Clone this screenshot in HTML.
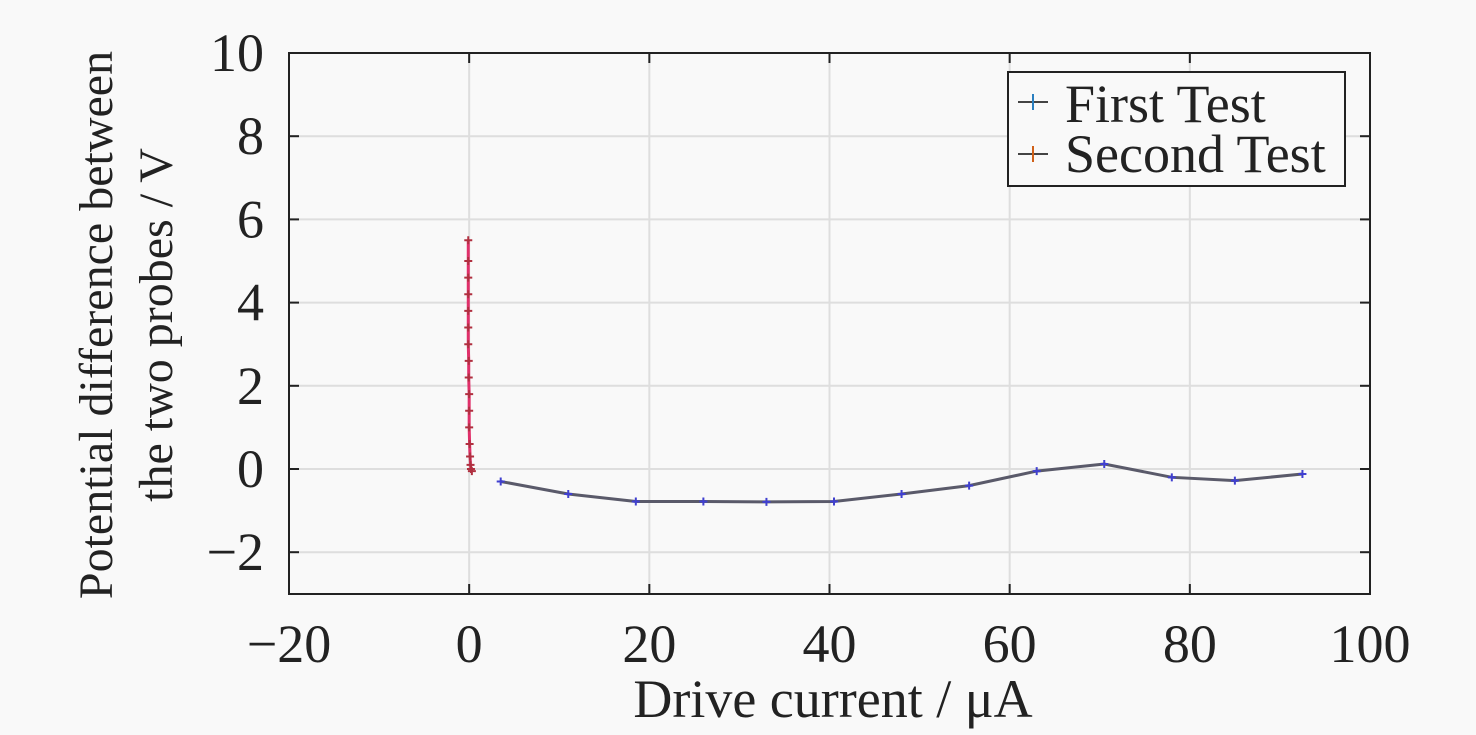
<!DOCTYPE html>
<html><head><meta charset="utf-8"><style>
body{margin:0;background:#f9f9f9;}
svg{display:block;font-family:"Liberation Serif",serif;}
</style></head><body>
<svg id="chart" width="1476" height="735" viewBox="0 0 1476 735">
<rect x="0" y="0" width="1476" height="735" fill="#f9f9f9"/>
<rect x="289" y="53" width="1081" height="541" fill="#f9f9f9"/>
<g id="grid"></g>
<g id="series"></g>
<rect x="289" y="53" width="1081" height="541" fill="none" stroke="#222" stroke-width="2"/>
<g id="ticks"></g>
<text x="833" y="717" text-anchor="middle" font-size="54" fill="#222">Drive current / μA</text>
<g transform="translate(112,325) rotate(-90)">
<text x="0" y="0" text-anchor="middle" font-size="48" fill="#222">Potential difference between</text>
<text x="0" y="60" text-anchor="middle" font-size="48" fill="#222">the two probes / V</text>
</g>
<g>
<rect x="1008" y="72" width="337" height="114" fill="#f9f9f9" stroke="#222" stroke-width="2"/>
<g>
<line x1="1018" y1="102" x2="1048" y2="102" stroke="#444" stroke-width="2"/>
<line x1="1033" y1="94" x2="1033" y2="110" stroke="#2a7fc0" stroke-width="2"/>
<text x="1065" y="122" font-size="54" fill="#222">First Test</text>
</g>
<g>
<line x1="1018" y1="154" x2="1048" y2="154" stroke="#444" stroke-width="2"/>
<line x1="1033" y1="146" x2="1033" y2="162" stroke="#d06018" stroke-width="2"/>
<text x="1065" y="172" font-size="54" fill="#222">Second Test</text>
</g>
</g>
</svg>
<script>
const xTicks=[-20,0,20,40,60,80,100];
const yTicks=[-2,0,2,4,6,8,10];
const firstX=[3.5,11,18.5,26,33,40.5,48,55.5,63,70.5,78,85,92.5];
const firstY=[-0.3,-0.6,-0.78,-0.78,-0.79,-0.78,-0.6,-0.4,-0.05,0.12,-0.2,-0.28,-0.12];
const secondX=[-0.1,-0.1,-0.1,-0.1,-0.1,-0.1,-0.1,-0.05,-0.05,0,0,0,0.05,0.1,0.15,0.2,0.3];
const secondY=[5.5,5.0,4.6,4.2,3.8,3.4,3.0,2.6,2.2,1.8,1.4,1.0,0.6,0.3,0.1,0,-0.05];
const X=v=>289+(v+20)*1081/120;
const Y=v=>469-v*41.6;
const NS="http://www.w3.org/2000/svg";
function mk(tag,attrs,parent,txt){const e=document.createElementNS(NS,tag);for(const k in attrs)e.setAttribute(k,attrs[k]);if(txt!==undefined)e.textContent=txt;document.getElementById(parent).appendChild(e);return e;}
xTicks.forEach(t=>{
 const g=mk('line',{x1:X(t),x2:X(t),y1:53,y2:594,stroke:'#dedede','stroke-width':2},'grid');
 
 
 mk('line',{x1:X(t),x2:X(t),y1:594,y2:584,stroke:'#222','stroke-width':2},'ticks');
 mk('line',{x1:X(t),x2:X(t),y1:53,y2:63,stroke:'#222','stroke-width':2},'ticks');
 const l=mk('text',{x:X(t),y:662,'text-anchor':'middle','font-size':54,fill:'#222'},'ticks',t<0?'\u2212'+(-t):String(t));
 
 
});
yTicks.forEach(t=>{
 const g=mk('line',{x1:289,x2:1370,y1:Y(t),y2:Y(t),stroke:'#dedede','stroke-width':2},'grid');
 
 
 mk('line',{x1:289,x2:299,y1:Y(t),y2:Y(t),stroke:'#222','stroke-width':2},'ticks');
 mk('line',{x1:1370,x2:1360,y1:Y(t),y2:Y(t),stroke:'#222','stroke-width':2},'ticks');
 const l=mk('text',{x:264,y:Y(t)+18,'text-anchor':'end','font-size':54,fill:'#222'},'ticks',t<0?'\u2212'+(-t):String(t));
 
 
});
function series(xs,ys,line,mark,name){
 const p=mk('polyline',{points:xs.map((x,i)=>X(x)+','+Y(ys[i])).join(' '),fill:'none',stroke:line,'stroke-width':3},'series');
 
 
 xs.forEach((x,i)=>{
  const m=mk('path',{d:`M${X(x)-4},${Y(ys[i])}h8M${X(x)},${Y(ys[i])-4}v8`,stroke:mark,'stroke-width':2},'series');
  
  
 });
}
series(firstX,firstY,'#5a5a6a','#4040d0','first-test');
series(secondX,secondY,'#e0306a','#b03040','second-test');
</script>
</body></html>
